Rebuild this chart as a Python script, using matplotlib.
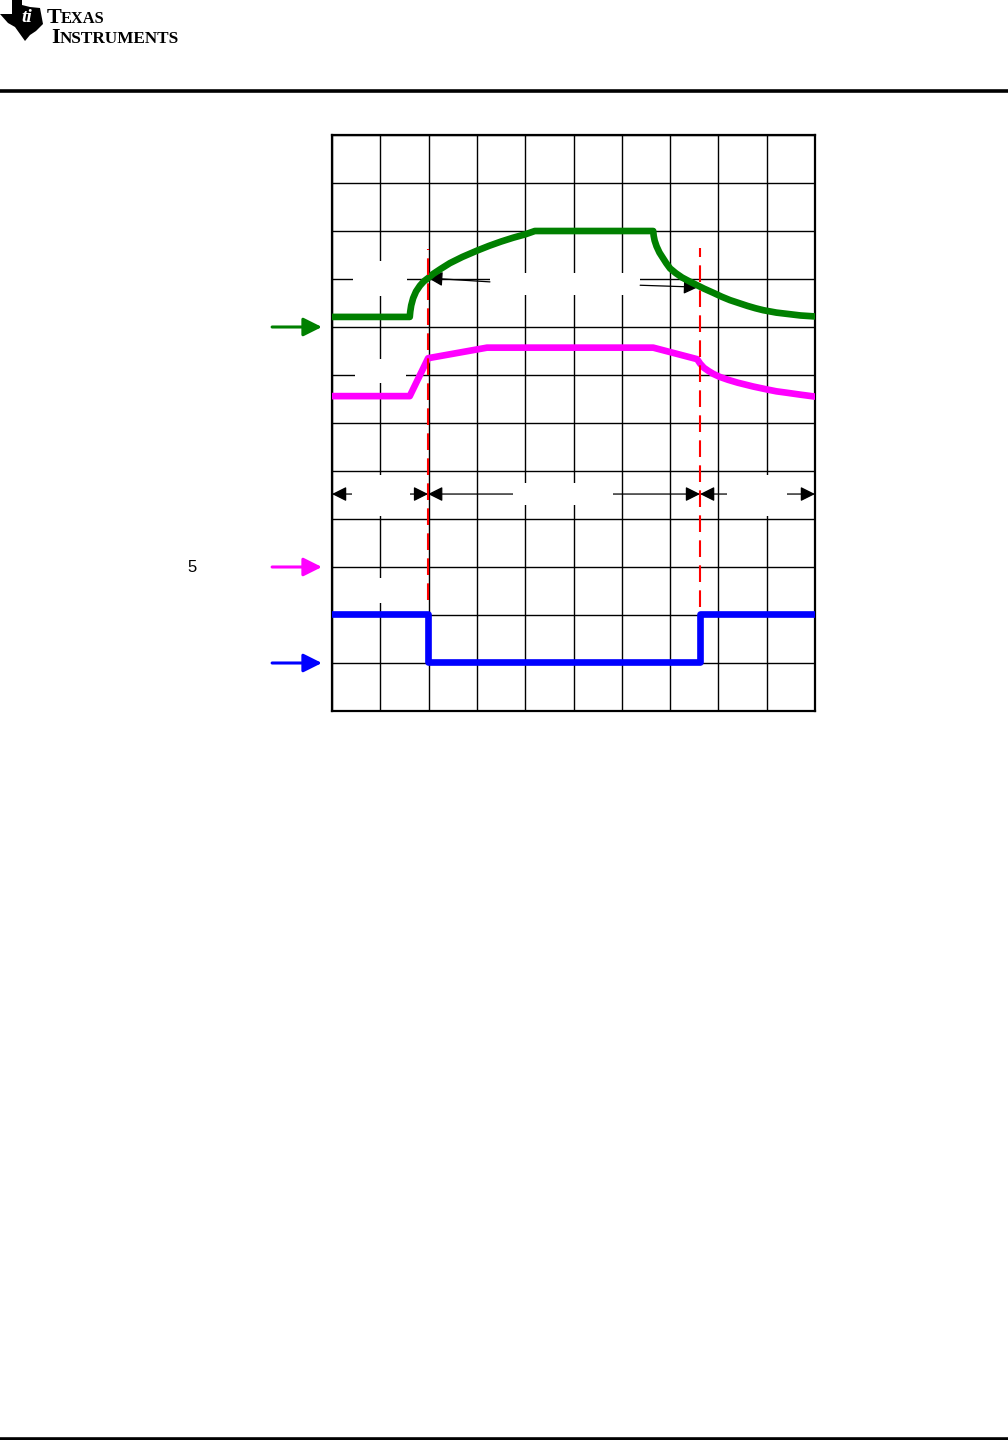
import matplotlib
matplotlib.use('Agg')
import matplotlib.pyplot as plt
from matplotlib.patches import Rectangle, Polygon
from matplotlib.lines import Line2D

plt.rcParams['font.family'] = ['Liberation Sans', 'DejaVu Sans']

# Traces (x in grid divisions, y in grid divisions from the bottom)
green_x = [0, 1.61, 1.62, 1.64, 1.68, 1.74, 1.82, 1.9, 1.99, 2.1, 2.25, 2.44, 2.7,
           3.0, 3.25, 3.5, 3.75, 4.0, 4.2,
           6.65, 6.66, 6.68, 6.72, 6.78, 6.85, 6.92, 7.0, 7.12, 7.25, 7.4, 7.54,
           7.7, 7.9, 8.07, 8.24, 8.42, 8.6, 8.77, 8.93, 9.2, 9.45, 9.7, 10.0]
green_y = [8.21, 8.21, 8.32, 8.45, 8.60, 8.74, 8.86, 8.95, 9.02, 9.11, 9.21, 9.33, 9.46,
           9.59, 9.69, 9.78, 9.86, 9.93, 10.0,
           10.0, 9.9, 9.8, 9.68, 9.55, 9.44, 9.33, 9.22, 9.12, 9.03, 8.95, 8.88,
           8.80, 8.71, 8.63, 8.56, 8.50, 8.44, 8.39, 8.35, 8.30, 8.27, 8.24, 8.22]

magenta_x = [0, 1.61, 1.99, 3.21, 6.65, 7.56, 7.62, 7.7, 7.8, 7.9, 8.03, 8.2, 8.4,
             8.6, 8.72, 9.0, 9.2, 9.42, 9.7, 10.0]
magenta_y = [6.56, 6.56, 7.35, 7.57, 7.57, 7.33, 7.24, 7.15, 7.08, 7.02, 6.96, 6.90, 6.84,
             6.79, 6.76, 6.70, 6.66, 6.63, 6.59, 6.55]

blue_x = [0, 1.99, 1.99, 7.62, 7.62, 10.0]
blue_y = [2.02, 2.02, 1.03, 1.03, 2.02, 2.02]

# Cursor positions (red dashed) and their vertical extent
cursor_x = [1.99, 7.62]
cursor_bottom = [2.31, 2.17]
cursor_top = [9.63, 9.65]

# Channel ground markers on the left
ground_levels = [8.0, 3.0, 1.0]
ground_colors = ['#008000', '#FF00FF', '#0000FF']

# Interval arrows row
interval_edges = [0, 1.99, 7.62, 10.0]
interval_y = 4.52

# Label boxes (text not visible, only the white background)
label_boxes = [(0.43, 8.65, 1.12, 0.73), (0.48, 6.83, 1.05, 0.50),
               (3.27, 8.67, 3.11, 0.46), (0.41, 4.06, 1.20, 0.86),
               (3.75, 4.29, 2.07, 0.46), (8.18, 4.06, 1.24, 0.86),
               (0.60, 2.25, 0.80, 0.52)]

W, H = 1008, 1440


def fx(px):
    return px / W


def fy(py):
    return 1 - py / H


fig = plt.figure(figsize=(10.08, 14.4), dpi=100)

# Header / footer rules
fig.add_artist(Line2D([0, 1], [fy(91), fy(91)], color='black', lw=2.6))
fig.add_artist(Line2D([0, 1], [fy(1438.5), fy(1438.5)], color='black', lw=2.6))

# TI logo (rough)
logo = [(12, 0), (22, 0), (22, 5), (30, 7), (40, 8), (43, 24), (36, 31), (30, 35),
        (25, 41), (20, 34), (15, 27), (8, 23), (0, 14), (12, 14)]
fig.add_artist(Polygon([(fx(x), fy(y)) for x, y in logo], closed=True,
                       facecolor='black', edgecolor='none', transform=fig.transFigure))
fig.text(fx(27), fy(18), 'ti', color='white', fontsize=14, fontweight='bold',
         fontstyle='italic', ha='center', va='center', family='Liberation Serif')
fig.text(fx(47), fy(23), 'T', fontsize=16, fontweight='bold', va='baseline',
         family='Liberation Serif')
fig.text(fx(61), fy(23), 'EXAS', fontsize=11.8, fontweight='bold', va='baseline',
         family='Liberation Serif')
fig.text(fx(51.5), fy(43), 'I', fontsize=16, fontweight='bold', va='baseline',
         family='Liberation Serif')
fig.text(fx(60), fy(43), 'NSTRUMENTS', fontsize=12.3, fontweight='bold', va='baseline',
         family='Liberation Serif')

ax = fig.add_axes([fx(332), fy(711), fx(815) - fx(332), fy(135) - fy(711)])
ax.set_xlim(0, 10)
ax.set_ylim(0, 12)
ax.set_xticks(range(11))
ax.set_yticks(range(13))
ax.tick_params(length=0, labelbottom=False, labelleft=False)
ax.grid(True, color='black', lw=1.0)
ax.set_axisbelow(True)
for s in ax.spines.values():
    s.set_linewidth(1.6)

# white label backgrounds
for x0, y0, w, h in label_boxes:
    ax.add_patch(Rectangle((x0, y0), w, h, facecolor='white', edgecolor='none', zorder=2))

# traces
ax.plot(green_x, green_y, color='#008000', lw=4.8, zorder=4, solid_joinstyle='round')
ax.plot(magenta_x, magenta_y, color='#FF00FF', lw=4.8, zorder=4, solid_joinstyle='round')
ax.plot(blue_x, blue_y, color='#0000FF', lw=4.8, zorder=4)

# cursors
for cx, cb, ct in zip(cursor_x, cursor_bottom, cursor_top):
    ax.plot([cx, cx], [cb, ct], color='#FF0000', lw=1.5, ls=(0, (8, 4)), zorder=5)

# interval arrows
for a, b in zip(interval_edges[:-1], interval_edges[1:]):
    ax.annotate('', xy=(b, interval_y), xytext=(a, interval_y),
                arrowprops=dict(arrowstyle='<|-|>', color='black', lw=0.9,
                                mutation_scale=22, shrinkA=0, shrinkB=0), zorder=1.5)

# pointer arrows to the green trace
ax.annotate('', xy=(1.99, 9.02), xytext=(3.27, 8.94),
            arrowprops=dict(arrowstyle='-|>', color='black', lw=0.9,
                            mutation_scale=22, shrinkA=0, shrinkB=0))
ax.annotate('', xy=(7.58, 8.83), xytext=(6.38, 8.87),
            arrowprops=dict(arrowstyle='-|>', color='black', lw=0.9,
                            mutation_scale=22, shrinkA=0, shrinkB=0))

# ground markers
for gy, gc in zip(ground_levels, ground_colors):
    ax.annotate('', xy=(-0.21, gy), xytext=(-1.24, gy), annotation_clip=False,
                arrowprops=dict(arrowstyle='-|>', color=gc, lw=2.2,
                                mutation_scale=28, shrinkA=0, shrinkB=0))

ax.text(-2.9, 3.0, '5', fontsize=12, ha='center', va='center', clip_on=False)

fig.savefig('out.png', dpi=100)
